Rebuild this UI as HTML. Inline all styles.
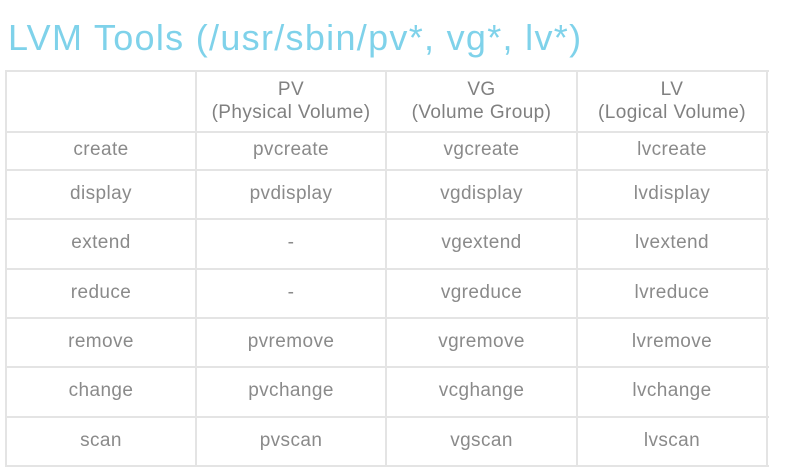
<!DOCTYPE html>
<html><head><style>
body{margin:0;width:786px;height:473px;background:#fff;position:relative;overflow:hidden;font-family:"Liberation Sans",sans-serif}
.t{position:absolute;left:8px;top:17px;font-size:36px;letter-spacing:1.3px;color:#7fd2ea;white-space:nowrap}
.h{position:absolute;background:#e4e4e4}
.c{position:absolute;text-align:center;color:#8a8a8a;font-size:19px;line-height:23px;letter-spacing:0.4px}
.hd{color:#808080}
</style></head><body>
<div class="t">LVM Tools (/usr/sbin/pv*, vg*, lv*)</div>
<div id="g"></div>
<script>
var ys=[71,132,170,219,269,318,367,417,466],xs=[6,196,386,577,767],h='';
ys.forEach(y=>h+=`<div class="h" style="left:6px;top:${y-1}px;width:763px;height:2px"></div>`);
xs.forEach(x=>h+=`<div class="h" style="left:${x-1}px;top:70px;width:2px;height:397px"></div>`);
var hd=['','PV<br>(Physical Volume)','VG<br>(Volume Group)','LV<br>(Logical Volume)'];
for(var i=1;i<4;i++)h+=`<div class="c hd" style="left:${xs[i]}px;width:${xs[i+1]-xs[i]}px;top:78px">${hd[i]}</div>`;
var r=[['create','pvcreate','vgcreate','lvcreate'],['display','pvdisplay','vgdisplay','lvdisplay'],['extend','-','vgextend','lvextend'],['reduce','-','vgreduce','lvreduce'],['remove','pvremove','vgremove','lvremove'],['change','pvchange','vcghange','lvchange'],['scan','pvscan','vgscan','lvscan']];
r.forEach((row,j)=>{var y=(ys[j+1]+ys[j+2])/2-13;row.forEach((t,i)=>h+=`<div class="c" style="left:${xs[i]}px;width:${xs[i+1]-xs[i]}px;top:${y}px">${t}</div>`)});
document.getElementById('g').innerHTML=h;
</script>
</body></html>
